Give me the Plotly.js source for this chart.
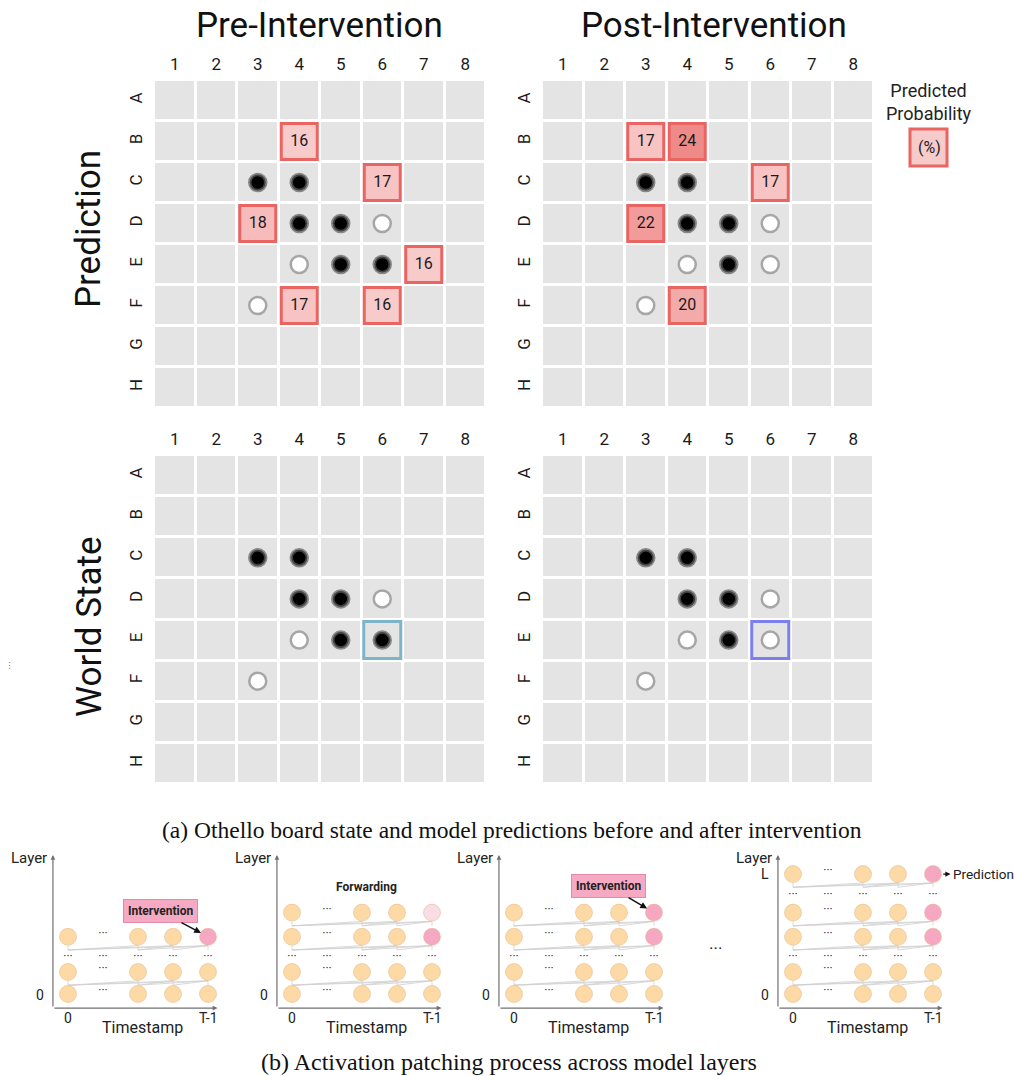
<!DOCTYPE html>
<html><head><meta charset="utf-8">
<script src="https://cdn.plot.ly/plotly-3.0.1.min.js"></script>
<style>html,body{margin:0;padding:0;background:#fff}</style>
</head><body><div id="chart" style="width:1015px;height:1076px"></div>
<script>
// ---------- board data ----------
const colLabels = ['1','2','3','4','5','6','7','8'];
const rowLabels = ['A','B','C','D','E','F','G','H'];

const preBlack = ['C3','C4','D4','D5','E5','E6'];
const preWhite = ['D6','E4','F3'];
const postBlack = ['C3','C4','D4','D5','E5'];
const postWhite = ['D6','E4','E6','F3'];

const prePredCells = ['B4','C6','D3','E7','F4','F6'];
const prePredProb = [16,17,18,16,17,16];
const postPredCells = ['B3','B4','C6','D3','F4'];
const postPredProb = [17,24,17,22,20];

const intervenedCell = ['E6'];

// ---------- activation patching diagrams ----------
const timeSlots = [0,2,3,4];          // 0, ..., T-2, T-1 (slot 1 = ellipsis)
const ellipsisSlots = [0,1,2,3,4];
const d1Rows = [0,1,2.6];      const d1Gaps = [1.68];      const d1Patched = [2.6];          const d1Faded = [];
const d2Rows = [0,1,2.6,3.7];  const d2Gaps = [1.68];      const d2Patched = [2.6];          const d2Faded = [3.7];
const d3Rows = [0,1,2.6,3.7];  const d3Gaps = [1.68];      const d3Patched = [2.6,3.7];      const d3Faded = [];
const d4Rows = [0,1,2.6,3.7,5.45]; const d4Gaps = [1.68,4.5]; const d4Patched = [2.6,3.7,5.45]; const d4Faded = [];

const W = 1015, H = 1076;
const PX = x => x / W, PY = y => 1 - y / H;
const FONT = 'Roboto, sans-serif';

const traces = [];
const layout = {
  width: W, height: H, margin: {l:0, r:0, t:0, b:0},
  paper_bgcolor: '#fff', plot_bgcolor: 'rgba(0,0,0,0)',
  showlegend: false, annotations: [], shapes: [],
  font: {family: FONT, color: '#222'}
};

function cellX(c) { return parseInt(c.slice(1), 10); }
function cellY(c) { return rowLabels.indexOf(c[0]) + 1; }

function addBoard(i, xd, yd, black, white, predCells, predProb, boxCells, boxColor) {
  const xa = i === 1 ? 'x' : 'x' + i, ya = i === 1 ? 'y' : 'y' + i;
  const z = rowLabels.map(() => colLabels.map(() => 0));
  traces.push({type: 'heatmap', xaxis: xa, yaxis: ya, z: z,
    x: colLabels.map((c, k) => k + 1), y: rowLabels.map((r, k) => k + 1),
    colorscale: [[0, '#e4e4e4'], [1, '#e4e4e4']], showscale: false,
    xgap: 3, ygap: 3, hoverinfo: 'skip'});
  if (boxCells.length) {
    traces.push({type: 'scatter', mode: 'markers', xaxis: xa, yaxis: ya,
      x: boxCells.map(cellX), y: boxCells.map(cellY),
      marker: {symbol: 'square-open', size: 37, color: boxColor, line: {width: 3, color: boxColor}},
      hoverinfo: 'skip', cliponaxis: false});
  }
  traces.push({type: 'scatter', mode: 'markers', xaxis: xa, yaxis: ya,
    x: black.map(cellX), y: black.map(cellY),
    marker: {size: 16, color: '#000', line: {width: 3.5, color: 'rgba(95,95,95,0.7)'}},
    hoverinfo: 'skip'});
  traces.push({type: 'scatter', mode: 'markers', xaxis: xa, yaxis: ya,
    x: white.map(cellX), y: white.map(cellY),
    marker: {size: 17, color: '#fff', line: {width: 2.5, color: '#a6a6a6'}},
    hoverinfo: 'skip'});
  if (predCells.length) {
    traces.push({type: 'scatter', mode: 'markers+text', xaxis: xa, yaxis: ya,
      x: predCells.map(cellX), y: predCells.map(cellY),
      text: predProb.map(String), textposition: 'middle center',
      textfont: {size: 16, color: '#1a1a1a', family: FONT},
      marker: {symbol: 'square', size: 36, color: predProb, cmin: 16, cmax: 24,
        colorscale: [[0, '#f8cbcb'], [1, '#ee8b89']], showscale: false,
        line: {width: 3, color: '#ea6461'}},
      hoverinfo: 'skip', cliponaxis: false});
  }
  const k = i === 1 ? '' : i;
  layout['xaxis' + k] = {domain: [PX(xd[0]), PX(xd[1])], range: [0.5, 8.5], anchor: ya,
    side: 'top', tickvals: colLabels.map((c, n) => n + 1), ticktext: colLabels,
    showgrid: false, zeroline: false, showline: false, ticks: '', ticklabelstandoff: 6,
    tickfont: {size: 17, color: '#1a1a1a', family: FONT}, fixedrange: true};
  layout['yaxis' + k] = {domain: [PY(yd[1]), PY(yd[0])], range: [8.5, 0.5], anchor: xa,
    tickvals: rowLabels.map((r, n) => n + 1), ticktext: rowLabels, tickangle: -90,
    showgrid: false, zeroline: false, showline: false, ticks: '', ticklabelstandoff: 8,
    tickfont: {size: 17, color: '#1a1a1a', family: FONT}, fixedrange: true};
}

addBoard(1, [154, 486], [80, 408], preBlack, preWhite, prePredCells, prePredProb, [], '');
addBoard(2, [542, 874], [80, 408], postBlack, postWhite, postPredCells, postPredProb, [], '');
addBoard(3, [154, 486], [455, 784], preBlack, preWhite, [], [], intervenedCell, '#7db4ca');
addBoard(4, [542, 874], [455, 784], postBlack, postWhite, [], [], intervenedCell, '#7b7ff0');

// ---------- diagrams ----------
const UX = 35, UY = 22, XR = [-1.9, 5.6], YR = [-1.8, 6.6];
const ROW0_PX = 994;
const PEACH = '#fdd9a6', PINK = '#f6a8c2', FADED = '#fbdbe6';

function addDiagram(i, col0px, rows, gaps, patched, faded) {
  const xa = 'x' + i, ya = 'y' + i;
  layout['xaxis' + i] = {domain: [PX(col0px + XR[0] * UX), PX(col0px + XR[1] * UX)], range: XR,
    anchor: ya, visible: false, fixedrange: true};
  layout['yaxis' + i] = {domain: [PY(ROW0_PX - YR[0] * UY), PY(ROW0_PX - YR[1] * UY)], range: YR,
    anchor: xa, visible: false, fixedrange: true};
  // connection lines (causal links from lower layer to upper layer)
  const lx = [], ly = [];
  rows.slice(1).forEach(r => {
    timeSlots.forEach((cj, j) => {
      timeSlots.forEach((ck, k) => {
        if (k >= j) { lx.push(cj, ck, null); ly.push(r - 0.6, r - 0.4, null); }
      });
    });
  });
  traces.push({type: 'scatter', mode: 'lines', xaxis: xa, yaxis: ya, x: lx, y: ly,
    line: {color: '#cfcfcf', width: 0.8}, hoverinfo: 'skip'});
  // circles
  const cx = [], cy = [], cc = [];
  rows.forEach(r => timeSlots.forEach(t => {
    cx.push(t); cy.push(r);
    const last = t === timeSlots[timeSlots.length - 1];
    cc.push(last && patched.includes(r) ? PINK : (last && faded.includes(r) ? FADED : PEACH));
  }));
  traces.push({type: 'scatter', mode: 'markers', xaxis: xa, yaxis: ya, x: cx, y: cy,
    marker: {size: 17, color: cc, line: {width: 0.8, color: 'rgba(220,180,130,0.6)'}}, hoverinfo: 'skip'});
  // ellipses
  const ex = [], ey = [];
  rows.forEach(r => { ex.push(1); ey.push(r + 0.12); });
  gaps.forEach(g => ellipsisSlots.forEach(s => { ex.push(s); ey.push(g); }));
  traces.push({type: 'scatter', mode: 'text', xaxis: xa, yaxis: ya, x: ex, y: ey,
    text: ex.map(() => '···'), textfont: {size: 12, color: '#333', family: FONT},
    textposition: 'middle center', hoverinfo: 'skip'});
  // axes arrows
  const ox = -0.43, oy = -0.64;
  const arr = {xref: xa, yref: ya, axref: xa, ayref: ya, text: '', showarrow: true,
    arrowhead: 2, arrowsize: 0.8, arrowwidth: 1.2, arrowcolor: '#707070'};
  layout.annotations.push(Object.assign({}, arr, {x: ox, y: 6.32, ax: ox, ay: oy}));
  layout.annotations.push(Object.assign({}, arr, {x: 4.27, y: oy, ax: ox, ay: oy}));
  const lab = (x, y, t, o) => layout.annotations.push(Object.assign({xref: xa, yref: ya, x: x, y: y,
    xanchor: 'center', yanchor: 'middle',
    text: t, showarrow: false, font: {size: 14, color: '#222', family: FONT}}, o || {}));
  lab(-0.55, 6.18, 'Layer', {xanchor: 'right', font: {size: 15, color: '#222', family: FONT}});
  lab(-0.62, -0.05, '0', {xanchor: 'right'});
  lab(0, -1.08, '0');
  lab(4, -1.08, 'T-1');
  lab(2.14, -1.5, 'Timestamp', {font: {size: 16, color: '#222', family: FONT}});
}

addDiagram(5, 68, d1Rows, d1Gaps, d1Patched, d1Faded);
addDiagram(6, 292, d2Rows, d2Gaps, d2Patched, d2Faded);
addDiagram(7, 514, d3Rows, d3Gaps, d3Patched, d3Faded);
addDiagram(8, 793, d4Rows, d4Gaps, d4Patched, d4Faded);

const boldLab = {family: 'Liberation Sans Narrow, Roboto, sans-serif', size: 12, color: '#222', weight: 'bold'};
function intervention(xa, ya, x, y, ax, ay) {
  layout.annotations.push({xref: xa, yref: ya, axref: xa, ayref: ya, x: x, y: y, ax: ax, ay: ay,
    text: '<b>Intervention</b>', showarrow: true, arrowhead: 2, arrowsize: 0.9, arrowwidth: 1.5,
    arrowcolor: '#111', standoff: 8, bgcolor: '#f6a9c2', bordercolor: '#e28aa6', borderwidth: 1,
    borderpad: 4, font: boldLab});
}
intervention('x5', 'y5', 4, 2.6, 2.63, 3.77);
intervention('x7', 'y7', 4, 3.7, 2.71, 4.9);
layout.annotations.push({xref: 'x6', yref: 'y6', x: 2.14, y: 4.86, text: '<b>Forwarding</b>',
  xanchor: 'center', yanchor: 'middle', showarrow: false, font: boldLab});
layout.annotations.push({xref: 'x8', yref: 'y8', x: -0.62, y: 5.45, text: 'L', xanchor: 'right',
  yanchor: 'middle', showarrow: false, font: {size: 14, color: '#222', family: FONT}});
layout.annotations.push({xref: 'x8', yref: 'y8', axref: 'x8', ayref: 'y8', x: 4.5, y: 5.45,
  ax: 4.25, ay: 5.45, text: '', showarrow: true, arrowhead: 2, arrowsize: 0.8, arrowwidth: 1.3,
  arrowcolor: '#111'});
layout.annotations.push({xref: 'x8', yref: 'y8', x: 4.52, y: 5.45, xanchor: 'left', yanchor: 'middle',
  text: 'Prediction', showarrow: false, font: {size: 13.5, color: '#222', family: FONT}});
layout.annotations.push({xref: 'paper', yref: 'paper', x: PX(715), y: PY(948), text: '···',
  xanchor: 'center', yanchor: 'middle', showarrow: false, font: {size: 17, color: '#222', family: FONT}});

// ---------- titles / labels ----------
const ann = (x, y, t, size, o) => layout.annotations.push(Object.assign({xref: 'paper', yref: 'paper',
  x: PX(x), y: PY(y), xanchor: 'center', yanchor: 'middle', text: t, showarrow: false,
  font: {size: size, color: '#111', family: FONT}}, o || {}));
ann(319, 25, 'Pre-Intervention', 35);
ann(714, 25, 'Post-Intervention', 35);
ann(88, 229, 'Prediction', 35, {textangle: -90});
ann(89, 627, 'World State', 35, {textangle: -90});
ann(929, 102, 'Predicted<br>Probability', 18, {font: {size: 18, color: '#222', family: FONT}});
layout.shapes.push({type: 'rect', xref: 'paper', yref: 'paper', x0: PX(910), x1: PX(947),
  y0: PY(166), y1: PY(129), fillcolor: '#f8cbcb', line: {color: '#ea6461', width: 3}});
ann(929, 147, '(%)', 16, {font: {size: 16, color: '#222', family: FONT}});
ann(9, 666, '⋮', 9, {font: {size: 9, color: '#777', family: FONT}});
ann(512, 830, '(a) Othello board state and model predictions before and after intervention', 23.5,
  {font: {size: 23.5, color: '#111', family: 'Liberation Serif, Times New Roman, serif'}});
ann(509, 1062, '(b) Activation patching process across model layers', 24,
  {font: {size: 24, color: '#111', family: 'Liberation Serif, Times New Roman, serif'}});

Plotly.newPlot('chart', traces, layout, {staticPlot: true, displayModeBar: false});
</script>
</body></html>
